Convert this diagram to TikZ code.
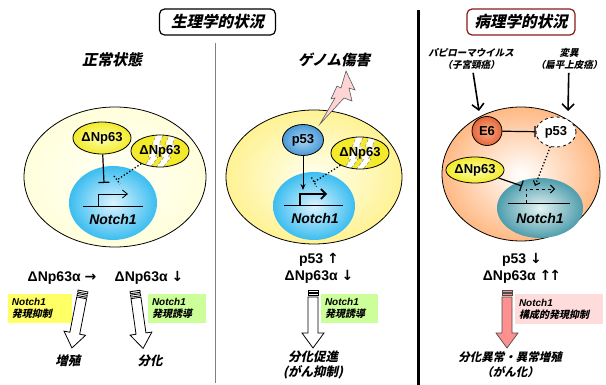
\documentclass[tikz,border=0pt]{standalone}
\usepackage{fontspec}
\setmainfont{Liberation Sans}
\newfontfamily\jpfont{Noto Sans CJK JP}[FakeSlant=0.22]
\newfontfamily\arrowfont{DejaVu Sans}
\usetikzlibrary{shapes.geometric,arrows.meta,calc}

\definecolor{creamin}{HTML}{FFFFF6}
\definecolor{creamout}{HTML}{FFFFDC}
\definecolor{yelin}{HTML}{FFFFF0}
\definecolor{yelout}{HTML}{FFF294}
\definecolor{peachout}{HTML}{FFB984}
\definecolor{nucin}{HTML}{DDF4FF}
\definecolor{nucout}{HTML}{3BBDF0}
\definecolor{tealin}{HTML}{E6F3F3}
\definecolor{tealout}{HTML}{4E9DAC}
\definecolor{pyin}{HTML}{FFFFB0}
\definecolor{pyout}{HTML}{F2EA2A}
\definecolor{pbin}{HTML}{A9D6F4}
\definecolor{pbout}{HTML}{4A98D6}
\definecolor{e6in}{HTML}{F9AE86}
\definecolor{e6out}{HTML}{E5653A}
\definecolor{boxyel}{HTML}{FFFF66}
\definecolor{boxgrn}{HTML}{CCFF99}
\definecolor{boxpnk}{HTML}{FFDCDC}
\definecolor{arrpnk}{HTML}{FF9090}
\definecolor{boltpnk}{HTML}{FFD4D4}
\definecolor{darkred}{HTML}{8B1A1A}

\newcommand{\arrup}{{\arrowfont\bfseries ↑}}
\newcommand{\arrdown}{{\arrowfont\bfseries ↓}}
\newcommand{\arrright}{{\arrowfont\bfseries →}}

\begin{document}
\begin{tikzpicture}[x=1pt, y=-1pt,
  cell/.style={ellipse, draw, line width=0.8pt, inner sep=0pt},
  nucleus/.style={ellipse, draw=none, inner sep=0pt},
  prot/.style={ellipse, draw, line width=0.8pt, inner sep=0pt,
               font=\bfseries\fontsize{13}{13}\selectfont},
  bolt/.style={white, draw=gray, densely dashed, line width=0.4pt},
  broken/.style={path picture={
      \coordinate (bc) at (path picture bounding box.center);
      \filldraw[bolt] ($(bc)+(-3pt,18pt)$)
          -- ++(7pt,0pt) -- ++(-5pt,-12pt) -- ++(4pt,0pt) -- ++(-8pt,-12pt)
          -- ++(3pt,0pt) -- ++(-9pt,-12pt) -- ++(-7pt,0pt) -- ++(9pt,12pt)
          -- ++(-3pt,0pt) -- ++(8pt,12pt) -- ++(-4pt,0pt) -- cycle;
      \filldraw[bolt] ($(bc)+(10pt,18pt)$)
          -- ++(7pt,0pt) -- ++(-5pt,-12pt) -- ++(4pt,0pt) -- ++(-8pt,-12pt)
          -- ++(3pt,0pt) -- ++(-9pt,-12pt) -- ++(-7pt,0pt) -- ++(9pt,12pt)
          -- ++(-3pt,0pt) -- ++(8pt,12pt) -- ++(-4pt,0pt) -- cycle;}},
  gene/.style={font=\bfseries\itshape\fontsize{14}{14}\selectfont},
  hdr/.style={draw, rounded corners=5pt, line width=1.2pt, fill=white,
              minimum height=26, font=\jpfont\bfseries\fontsize{15.5}{15.5}\selectfont},
  title/.style={font=\jpfont\bfseries\fontsize{15}{15}\selectfont},
  level/.style={font=\bfseries\fontsize{14}{17}\selectfont, align=center},
  note/.style={minimum height=29, inner sep=4pt, align=left,
               font=\bfseries\itshape\fontsize{10}{12}\selectfont},
  outcome/.style={font=\jpfont\bfseries\fontsize{12.5}{15}\selectfont, align=center},
  src/.style={font=\jpfont\bfseries\fontsize{9.5}{11.5}\selectfont, align=center},
  inhib/.style={line width=1.2pt, -{Bar[width=11pt,line width=1.2pt]}},
  dotinhib/.style={line width=1.3pt, dotted},
  act/.style={line width=1pt, -{Straight Barb[length=5pt,width=8pt]}},
  hit/.style={line width=1.6pt, -{Straight Barb[length=6pt,width=12pt,line width=1.6pt]}},
  pics/fatarrow/.style={code={
    \filldraw (-5,0) rectangle (5,2);
    \filldraw (-5,3.5) rectangle (5,5.5);
    \filldraw (-5,7) -- (5,7) -- (5,43) -- (11,43) -- (0,58) -- (-11,43) -- (-5,43) -- cycle;}}
]
  \useasboundingbox (0,0) rectangle (606,385);

  % separators and headers
  \draw[gray, line width=0.7pt] (215,43) -- (215,383);
  \draw[line width=3.5pt] (418.5,10) -- (418.5,385);
  \node[hdr, minimum width=116] (physio) at (217.5,22) {生理学的状況};
  \node[hdr, minimum width=108, draw=darkred] (patho) at (521,22) {病理学的状況};

  % ---- normal state
  \node[title] (normal) at (112,60) {正常状態};
  \node[cell, shade, inner color=creamin, outer color=creamout,
        minimum width=182, minimum height=140] (cellA) at (115,177) {};
  \node[nucleus, shade, inner color=nucin, outer color=nucout,
        minimum width=88, minimum height=74] (nucA) at (113,203) {};
  \draw[line width=0.9pt] (83,206) -- (143,206);
  \draw[act, line width=0.8pt] (98,206) -- (98,194) -- (128,194);
  \node[gene] (notchA) at (113,219) {Notch1};
  \node[prot, shade, inner color=pyin, outer color=pyout,
        minimum width=52, minimum height=32] (p63A) at (102,138) {ΔNp63};
  \node[prot, fill=pyout, broken,
        minimum width=52, minimum height=32] (p63Ax) at (160,151) {ΔNp63};
  \coordinate (tA) at (104,183);
  \coordinate (dA) at (117,180);
  \draw[inhib] (p63A) -- (tA);
  \draw[dotinhib] (p63Ax) -- (dA);
  \draw[dotinhib] ($(dA)+(-3,-4)$) -- ($(dA)+(3,4)$);

  \node[level] (lvA1) at (62,278) {ΔNp63α \arrright};
  \node[level] (lvA2) at (149,278) {ΔNp63α \arrdown};
  \node[note, fill=boxyel, minimum width=64, text width=56] (boxA1) at (40,308.5)
    {Notch1\\{\jpfont 発現抑制}};
  \node[note, fill=boxgrn, minimum width=58, text width=50] (boxA2) at (177,308.5)
    {Notch1\\{\jpfont 発現誘導}};
  \pic[fill=white, draw=black, line width=0.8pt, rotate=-11] at (83,291) {fatarrow};
  \pic[fill=white, draw=black, line width=0.8pt, rotate=8] at (135,291) {fatarrow};
  \node[outcome] (growA) at (68,361) {増殖};
  \node[outcome] (diffA) at (150,361) {分化};

  % ---- genome damage
  \node[title, font=\jpfont\bfseries\fontsize{14.5}{14.5}\selectfont] (damage) at (334,60) {ゲノム傷害};
  \node[cell, shade, inner color=yelin, outer color=yelout,
        minimum width=176, minimum height=134] (cellB) at (314,177) {};
  \filldraw[fill=boltpnk, draw=gray!70!black, line width=0.6pt]
    (346,71) -- (355,90) -- (349,88) -- (352,101) -- (344,98) -- (320,124)
    -- (335,98) -- (331,99) -- (337,86) -- (341,88) -- cycle;
  \node[nucleus, shade, inner color=nucin, outer color=nucout,
        minimum width=82, minimum height=68] (nucB) at (314,206) {};
  \draw[line width=0.9pt] (284,205) -- (343,205);
  \draw[line width=1.6pt, -{Straight Barb[length=5pt,width=10pt,line width=1.6pt]}]
    (300,205) -- (300,194) -- (327,194);
  \node[gene] (notchB) at (315,218) {Notch1};
  \node[prot, shade, inner color=pbin, outer color=pbout,
        minimum width=41, minimum height=31] (p53B) at (303,140) {p53};
  \node[prot, fill=pyout, broken,
        minimum width=50, minimum height=32] (p63Bx) at (360,153) {ΔNp63};
  \coordinate (tB) at (303,190);
  \coordinate (dB) at (314,182);
  \draw[line width=1pt, -{Stealth[length=6pt,width=5pt]}] (p53B) -- (tB);
  \draw[dotinhib] (p63Bx) -- (dB);
  \draw[dotinhib] ($(dB)+(-2.5,-4.5)$) -- ($(dB)+(2.5,4.5)$);

  \node[level] (lvB) at (319,268) {p53 \arrup\\ΔNp63α \arrdown};
  \node[note, fill=boxgrn, minimum width=57, text width=49] (boxB) at (349.5,308.5)
    {Notch1\\{\jpfont 発現誘導}};
  \pic[fill=white, draw=black, line width=0.8pt] at (313,290) {fatarrow};
  \node[outcome] (diffB) at (313,365) {分化促進\\(がん抑制)};

  % ---- pathological
  \node[src] (hpv) at (471,59) {パピローマウイルス\\（子宮頸癌）};
  \node[src] (mut) at (569,59) {変異\\（扁平上皮癌）};
  \node[cell, shade, inner color=white, outer color=peachout,
        minimum width=158, minimum height=134] (cellC) at (521,174) {};
  \node[nucleus, shade, inner color=tealin, outer color=tealout,
        minimum width=86, minimum height=60] (nucC) at (540,208) {};
  \draw[line width=0.9pt] (508,203) -- (570,203);
  \draw[dashed, line width=0.9pt, -{Straight Barb[length=4pt,width=8pt,line width=0.9pt]}]
    (526,203) -- (526,189) -- (555,189);
  \node[gene] (notchC) at (540,218) {Notch1};
  \node[prot, shade, inner color=e6in, outer color=e6out,
        minimum width=30, minimum height=29] (e6) at (487,131) {E6};
  \node[prot, fill=white, dashed, minimum width=40, minimum height=30] (p53C) at (556,132) {p53};
  \node[prot, shade, inner color=pyin, outer color=pyout,
        minimum width=48, minimum height=26] (p63C) at (475,170) {ΔNp63};
  \coordinate (hpvend) at (479,111);
  \coordinate (mutend) at (568,111);
  \coordinate (tC) at (522,186);
  \coordinate (dC) at (535,186);
  \draw[hit] (hpv) -- (hpvend);
  \draw[hit] (mut) -- (mutend);
  \draw[inhib] (e6) -- (p53C);
  \draw[inhib] (p63C) -- (tC);
  \draw[line width=1.3pt, dotted, -{Straight Barb[length=4pt,width=7pt,line width=1pt]}] (p53C) -- (dC);

  \node[level] (lvC) at (522,268) {p53 \arrdown\\ΔNp63α \arrup\kern-2pt\arrup};
  \node[note, fill=boxpnk, minimum width=88, text width=80] (boxC) at (559,309)
    {Notch1\\{\jpfont 構成的発現抑制}};
  \pic[fill=arrpnk, draw=gray!60!black, line width=0.7pt] at (507,290) {fatarrow};
  \node[outcome, font=\jpfont\bfseries\fontsize{11.5}{15}\selectfont] (diffC) at (510,365) {分化異常・異常増殖\\（がん化）};
\end{tikzpicture}
\end{document}
